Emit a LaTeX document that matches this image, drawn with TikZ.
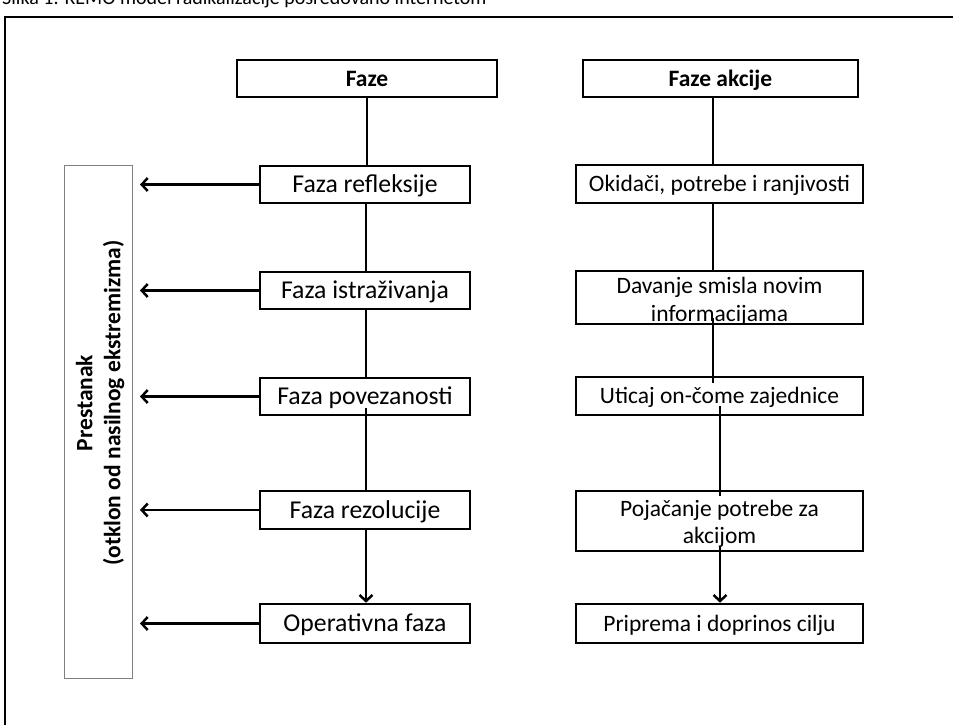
\documentclass[tikz,border=0pt]{standalone}
\usepackage{fontspec}
\setmainfont{Carlito}
\usetikzlibrary{arrows.meta}
\begin{document}
\begin{tikzpicture}[x=1pt,y=-1pt,
  box/.style={draw, line width=2.6pt, rectangle, inner sep=0pt, align=center,
    font=\fontsize{23.5}{28}\selectfont},
  rbox/.style={box, minimum width=287pt, text height=15.1pt, text depth=0pt},
  lbox/.style={box, minimum width=210pt, font=\fontsize{25.7}{30}\selectfont, text height=16.5pt, text depth=0pt},
  hbox/.style={box, font=\fontsize{23.5}{28}\selectfont\bfseries, text height=15.1pt, text depth=0pt},
  link/.style={line width=2.5pt},
  arr/.style={line width=2.5pt, -{Straight Barb[length=6pt,width=13pt,line width=2.5pt]}}]
\useasboundingbox (0,0) rectangle (953,724);
\clip (0,0) rectangle (953,724);
% caption and frame
\node[anchor=base west, inner sep=0pt, font=\fontsize{20}{24}\selectfont] (cap) at (2,4)
  {Slika 1. REMO model radikalizacije posredovano internetom};
\draw[line width=2.6pt] (5,17) rectangle (980,760);
% left column
\node[hbox, minimum width=260pt, minimum height=37pt] (faze) at (367,78.5) {Faze};
\node[lbox, minimum height=37pt] (refl) at (365,184.5) {Faza refleksije};
\node[lbox, minimum height=37pt] (istr) at (365,290.5) {Faza istraživanja};
\node[lbox, minimum height=37pt] (pov) at (365,396.5) {Faza povezanosti};
\node[lbox, minimum height=38pt] (rez) at (365,510) {Faza rezolucije};
\node[lbox, minimum height=39pt] (oper) at (365,623.5) {Operativna faza};
% right column
\node[hbox, minimum width=275pt, minimum height=37pt] (fazak) at (720.5,78.5) {Faze akcije};
\node[rbox, minimum height=38pt] (okid) at (719.5,184) {Okidači, potrebe i ranjivosti};
\node[box, minimum width=287pt, minimum height=53pt, text height=47pt, text depth=0pt] (dav) at (719.5,297.5) {Davanje smisla novim\\informacijama};
\node[rbox, minimum height=38pt] (utic) at (719.5,396) {Uticaj on-čome zajednice};
\node[box, minimum width=287pt, minimum height=60pt, text height=44pt, text depth=0pt, font=\fontsize{23.5}{27}\selectfont] (poj) at (719.5,521) {Pojačanje potrebe za\\akcijom};
\node[rbox, minimum height=39pt] (prip) at (719.5,623.5) {Priprema i doprinos cilju};
% side bar
\node[draw=gray, line width=1pt, minimum width=68pt, minimum height=513pt, inner sep=0pt] (pres) at (98,421.5) {};
\node[rotate=90, align=center, inner sep=0pt, font=\fontsize{23.5}{28}\selectfont\bfseries] (prestxt) at (100,403)
  {Prestanak\\(otklon od nasilnog ekstremizma)};
\coordinate (tipx) at (140,0);
% left connectors
\draw[link] (faze.south) -- (faze.south |- refl.north);
\draw[link] ([xshift=1pt]refl.south) -- ([xshift=1pt]refl.south |- istr.north);
\draw[link] ([xshift=1pt]istr.south) -- ([xshift=1pt]istr.south |- pov.north);
\draw[link] ([xshift=1pt,yshift=8pt]pov.south) -- ([xshift=1pt]pov.south |- rez.north);
\draw[arr] ([xshift=1pt]rez.south) -- ([xshift=1pt]rez.south |- oper.north);
\foreach \n in {refl,istr,pov,rez,oper}
  \draw[arr] (\n.west) -- (\n.west -| tipx);
% right connectors
\draw[link] ([xshift=-6.5pt]okid.north |- fazak.south) -- ([xshift=-6.5pt]okid.north);
\draw[link] ([xshift=-6.5pt]okid.south) -- ([xshift=-6.5pt]dav.north);
\draw[link] ([xshift=-6.5pt,yshift=7pt]dav.south) -- ([xshift=-6.5pt,yshift=-7pt]utic.north);
\draw[link] ([xshift=0.5pt,yshift=10pt]utic.south) -- ([xshift=0.5pt,yshift=-6pt]poj.north);
\draw[arr] ([xshift=0.5pt,yshift=5pt]poj.south) -- ([xshift=0.5pt]prip.north);
\end{tikzpicture}
\end{document}
